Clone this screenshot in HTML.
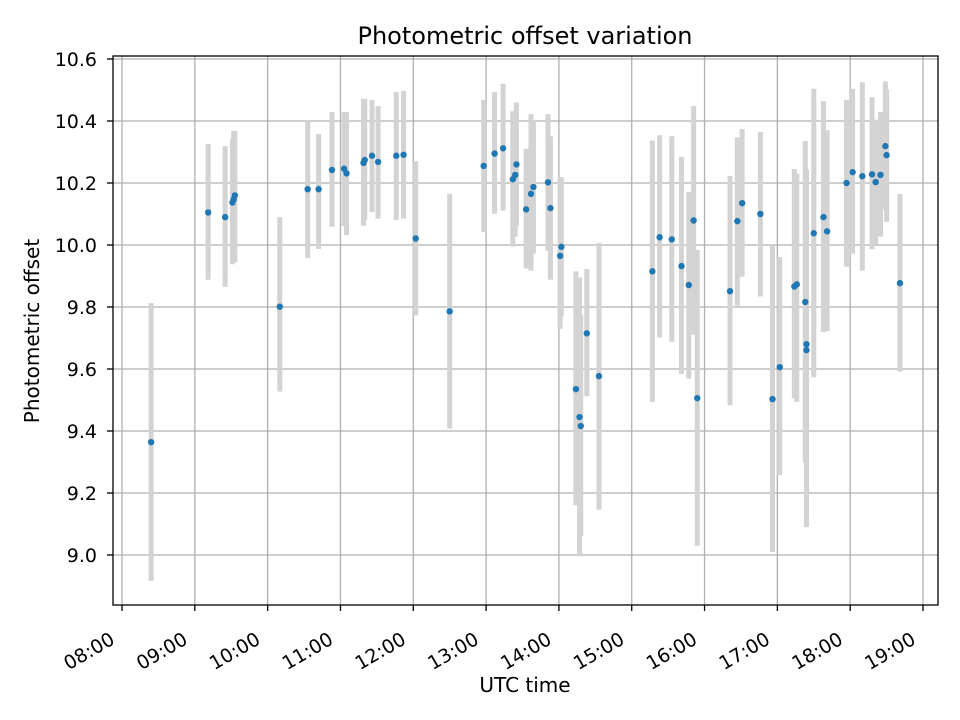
<!DOCTYPE html>
<html><head><meta charset="utf-8"><style>
html,body{margin:0;padding:0;background:#fff}
svg{display:block;font-family:"DejaVu Sans","Liberation Sans",sans-serif}
</style></head><body>
<svg id="chart" width="960" height="720" viewBox="0 0 960 720">
<rect x="0" y="0" width="960" height="720" fill="#fff"/>
<text x="525" y="44" font-size="24" text-anchor="middle">Photometric offset variation</text>
<text x="525" y="692" font-size="20" text-anchor="middle">UTC time</text>
<text x="0" y="0" font-size="20" text-anchor="middle" transform="translate(39,331) rotate(-90)">Photometric offset</text>
<g id="grid"></g>
<g id="bars"></g>
<g id="pts"></g>
<rect x="113" y="56" width="825" height="549" fill="none" stroke="#000" stroke-width="1.3"/>
<g id="axes"></g>
</svg>
<script>
const times = ["08:24","09:11","09:25","09:31","09:32","09:33","10:10","10:33","10:42","10:53","11:03","11:05","11:19","11:20","11:26","11:31","11:46","11:52","12:02","12:30","12:58","13:07","13:14","13:22","13:24","13:25","13:33","13:37","13:39","13:51","13:53","14:01","14:02","14:14","14:17","14:18","14:23","14:33","15:17","15:23","15:33","15:41","15:47","15:51","15:54","16:21","16:27","16:31","16:46","16:56","17:02","17:14","17:16","17:23","17:24","17:24","17:30","17:38","17:41","17:57","18:02","18:10","18:18","18:21","18:25","18:29","18:30","18:41"];
const offsets = [9.364,10.105,10.090,10.137,10.147,10.160,9.801,10.180,10.180,10.242,10.246,10.231,10.265,10.274,10.288,10.268,10.288,10.291,10.021,9.786,10.255,10.295,10.312,10.212,10.226,10.260,10.115,10.165,10.187,10.202,10.119,9.965,9.994,9.535,9.445,9.416,9.715,9.577,9.915,10.025,10.018,9.932,9.871,10.079,9.506,9.851,10.077,10.135,10.100,9.503,9.606,9.866,9.873,9.816,9.661,9.680,10.038,10.090,10.044,10.200,10.235,10.222,10.228,10.203,10.226,10.319,10.290,9.877];
const errLow = [8.917,9.888,9.865,9.938,9.944,9.944,9.527,9.958,9.987,10.059,10.061,10.032,10.062,10.080,10.106,10.085,10.081,10.085,9.773,9.408,10.042,10.101,10.111,9.995,10.027,10.062,9.924,9.917,9.972,9.982,9.888,9.730,9.770,9.160,8.996,9.060,9.512,9.146,9.494,9.702,9.688,9.584,9.569,9.711,9.030,9.483,9.804,9.898,9.834,9.010,9.258,9.505,9.494,9.298,9.090,9.124,9.573,9.719,9.722,9.930,9.972,9.917,9.986,10.003,10.027,10.114,10.075,9.592];
const errHigh = [9.813,10.326,10.319,10.342,10.368,10.368,10.090,10.401,10.358,10.429,10.429,10.429,10.471,10.471,10.468,10.448,10.493,10.497,10.270,10.165,10.468,10.493,10.520,10.431,10.433,10.460,10.310,10.422,10.404,10.422,10.351,10.218,10.218,9.915,9.895,9.774,9.923,10.007,10.337,10.354,10.351,10.284,10.171,10.448,9.984,10.223,10.347,10.374,10.364,9.997,9.961,10.245,10.230,10.335,10.240,10.243,10.504,10.464,10.370,10.468,10.504,10.525,10.477,10.404,10.429,10.528,10.502,10.165];
const xTickLabels = ["08:00","09:00","10:00","11:00","12:00","13:00","14:00","15:00","16:00","17:00","18:00","19:00"];
const yTickLabels = ["9.0","9.2","9.4","9.6","9.8","10.0","10.2","10.4","10.6"];

const NS="http://www.w3.org/2000/svg";
function toH(t){const p=t.split(":");return +p[0]+(+p[1])/60;}
function xScale(h){return 122+(h-8)*(923-122)/11;}
function yScale(v){return 245-(v-10)*310;}
function mk(tag,attrs,parent){const e=document.createElementNS(NS,tag);for(const k in attrs)e.setAttribute(k,attrs[k]);parent.appendChild(e);return e;}
const grid=document.getElementById('grid'),bars=document.getElementById('bars'),pts=document.getElementById('pts'),axes=document.getElementById('axes');

xTickLabels.forEach(l=>{
  const x=xScale(toH(l));
  const g=mk('line',{x1:x,x2:x,y1:56,y2:605,stroke:'#b0b0b0','stroke-width':1.3},grid);
  
  
  const t=mk('line',{x1:x,x2:x,y1:605,y2:611,stroke:'#000','stroke-width':1.3},axes);
  
  
  const tx=mk('text',{x:x-6,y:643,'font-size':19,'text-anchor':'end',transform:`rotate(-30 ${x-6} 643)`},axes);
  tx.textContent=l;
  
  
});
yTickLabels.forEach(l=>{
  const y=yScale(+l);
  const g=mk('line',{x1:113,x2:938,y1:y,y2:y,stroke:'#b0b0b0','stroke-width':1.3},grid);
  
  
  const t=mk('line',{x1:107,x2:113,y1:y,y2:y,stroke:'#000','stroke-width':1.3},axes);
  
  
  const tx=mk('text',{x:97,y:y+7,'font-size':19,'text-anchor':'end'},axes);
  tx.textContent=l;
  
  
});
times.forEach((t,i)=>{
  const x=xScale(toH(t));
  const b=mk('line',{x1:x,x2:x,y1:yScale(errLow[i]),y2:yScale(errHigh[i]),stroke:'#d3d3d3','stroke-width':5},bars);
  
  
});
times.forEach((t,i)=>{
  const c=mk('circle',{cx:xScale(toH(t)),cy:yScale(offsets[i]),r:3.2,fill:'#1f77b4'},pts);
  
  
});
</script>
</body></html>
